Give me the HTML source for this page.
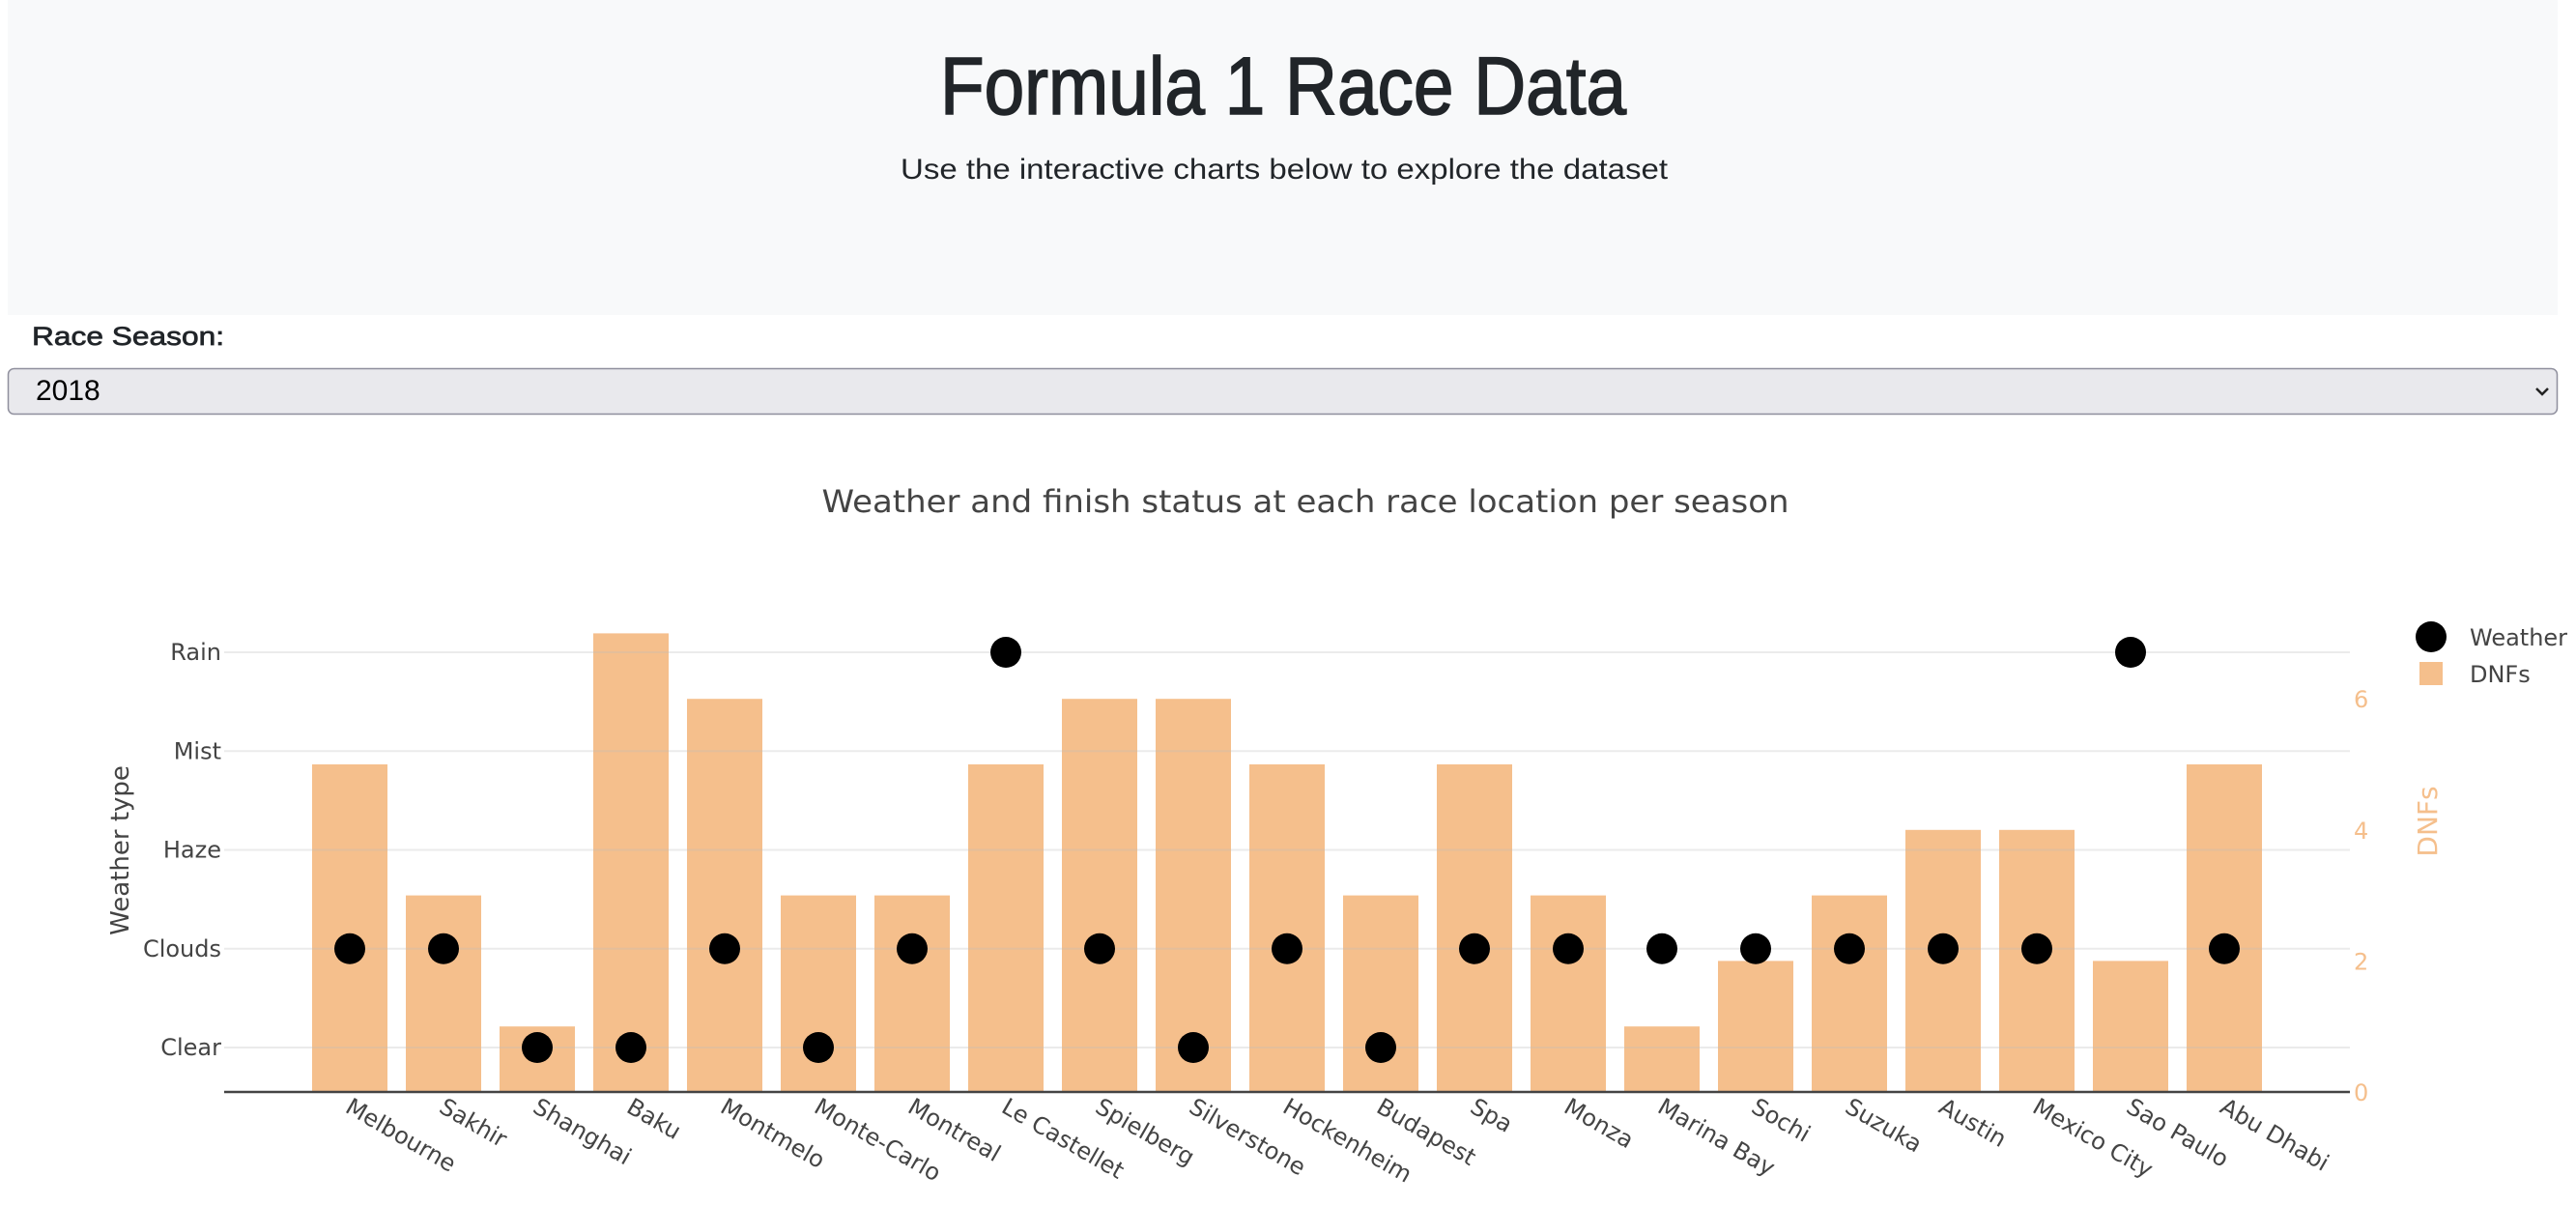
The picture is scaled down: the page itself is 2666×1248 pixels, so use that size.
<!DOCTYPE html>
<html><head><meta charset="utf-8"><title>Formula 1 Race Data</title>
<style>
html,body{margin:0;padding:0;background:#fff;width:2666px;height:1248px;overflow:hidden}
svg{display:block}
</style></head>
<body>
<svg id="page" width="2666" height="1248" xmlns="http://www.w3.org/2000/svg">
  <rect x="8" y="0" width="2639" height="326" fill="#f8f9fa"/>
  <text x="1328" y="118" text-anchor="middle" font-family="Liberation Sans, sans-serif" font-size="84" fill="#212529" stroke="#212529" stroke-width="1.6" textLength="710" lengthAdjust="spacingAndGlyphs">Formula 1 Race Data</text>
  <text x="1329" y="185" text-anchor="middle" font-family="Liberation Sans, sans-serif" font-size="30" fill="#212529" textLength="794" lengthAdjust="spacingAndGlyphs">Use the interactive charts below to explore the dataset</text>
  <text x="33" y="357" font-family="Liberation Sans, sans-serif" font-size="27" fill="#212529" stroke="#212529" stroke-width="0.7" textLength="199" lengthAdjust="spacingAndGlyphs">Race Season:</text>
  <g>
    <rect x="8.5" y="381.5" width="2638" height="47" rx="6" fill="#e9e9ed" stroke="#8f8f9d" stroke-width="1.5"/>
    <text x="37" y="414" font-family="Liberation Sans, sans-serif" font-size="30" fill="#000">2018</text>
    <path d="M2625 402 l6 6 l6 -6" fill="none" stroke="#222" stroke-width="2.5"/>
  </g>
  <text x="1351" y="530" text-anchor="middle" font-family="DejaVu Sans, sans-serif" font-size="32" fill="#444" textLength="1001" lengthAdjust="spacingAndGlyphs">Weather and finish status at each race location per season</text>
  <g id="chart"></g>
</svg>
<script>
const categories = ["Melbourne","Sakhir","Shanghai","Baku","Montmelo","Monte-Carlo","Montreal","Le Castellet","Spielberg","Silverstone","Hockenheim","Budapest","Spa","Monza","Marina Bay","Sochi","Suzuka","Austin","Mexico City","Sao Paulo","Abu Dhabi"];
const dnfs = [5,3,1,7,6,3,3,5,6,6,5,3,5,3,1,2,3,4,4,2,5];
const weather = ["Clouds","Clouds","Clear","Clear","Clouds","Clear","Clouds","Rain","Clouds","Clear","Clouds","Clear","Clouds","Clouds","Clouds","Clouds","Clouds","Clouds","Clouds","Rain","Clouds"];
const weatherLevels = ["Clear","Clouds","Haze","Mist","Rain"];
const dnfTicks = [0,2,4,6];

const NS = "http://www.w3.org/2000/svg";
const g = document.getElementById('chart');
const L = 232, R = 2432, BASE = 1130;
const xC = i => 362 + 97 * i;
const yW = k => 1084 - 102.25 * weatherLevels.indexOf(k);
const yD = v => BASE - 67.8 * v;
const barW = 78;
function mk(tag, attrs){const e=document.createElementNS(NS,tag);for(const k in attrs)e.setAttribute(k,attrs[k]);g.appendChild(e);return e;}

dnfs.forEach((v,i)=>{
  const r = mk('rect',{x:xC(i)-barW/2,y:yD(v),width:barW,height:BASE-yD(v),fill:'#f5bf8c'});
  
  
});
weatherLevels.forEach(k=>{
  const l = mk('line',{x1:L,x2:R,y1:yW(k),y2:yW(k),stroke:'rgba(190,190,190,0.3)','stroke-width':2});
  
  
  const t = mk('text',{x:229,y:yW(k)+8,'text-anchor':'end','font-family':'DejaVu Sans, sans-serif','font-size':24,fill:'#444'});
  t.textContent=k;
  
  
});
dnfTicks.forEach(v=>{
  const t = mk('text',{x:2436,y:yD(v)+9,'font-family':'DejaVu Sans, sans-serif','font-size':24,fill:'#f5bf8c'});
  t.textContent=v;
  
  
});
const ax = mk('line',{x1:L,x2:R,y1:BASE,y2:BASE,stroke:'#444','stroke-width':2.5});


weather.forEach((k,i)=>{
  const c = mk('circle',{cx:xC(i),cy:yW(k),r:16,fill:'#000'});
  
  
});
categories.forEach((n,i)=>{
  const t = mk('text',{transform:`translate(${xC(i)-6},${1150}) rotate(30)`,'font-family':'DejaVu Sans, sans-serif','font-size':24,fill:'#444'});
  t.textContent=n;
  
  
});
const yt = mk('text',{transform:'translate(133,880) rotate(-90)','text-anchor':'middle','font-family':'DejaVu Sans, sans-serif','font-size':26,fill:'#444'});
yt.textContent='Weather type';


const y2t = mk('text',{transform:'translate(2522,850) rotate(-90)','text-anchor':'middle','font-family':'DejaVu Sans, sans-serif','font-size':28,fill:'#f5bf8c'});
y2t.textContent='DNFs';


const lc = mk('circle',{cx:2516,cy:659,r:16,fill:'#000'});


const lt1 = mk('text',{x:2556,y:668,'font-family':'DejaVu Sans, sans-serif','font-size':24,fill:'#444'});
lt1.textContent='Weather';


const ls = mk('rect',{x:2504,y:685,width:24,height:24,fill:'#f5bf8c'});


const lt2 = mk('text',{x:2556,y:706,'font-family':'DejaVu Sans, sans-serif','font-size':24,fill:'#444'});
lt2.textContent='DNFs';


</script>
</body></html>
